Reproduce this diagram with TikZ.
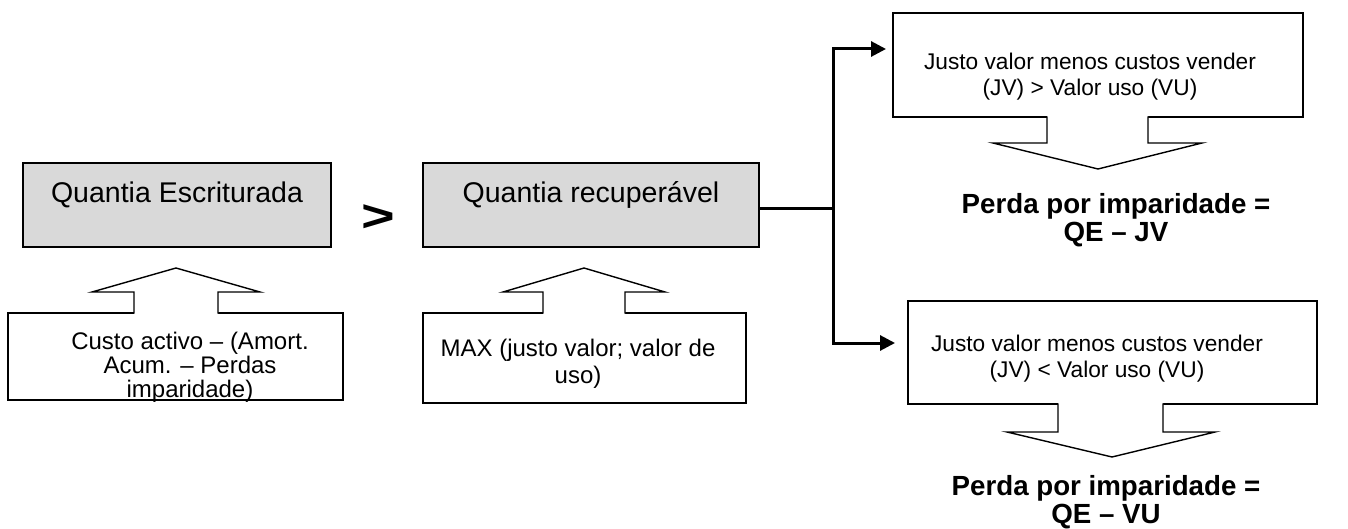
\documentclass[tikz,border=0pt]{standalone}
\usepackage{fontspec}
\setmainfont{Liberation Sans}
\usetikzlibrary{arrows.meta}
\definecolor{boxgray}{HTML}{D9D9D9}

\begin{document}
\begin{tikzpicture}[x=1pt,y=-1pt,
  frame/.style={draw=black, line width=1.4pt, rectangle, inner sep=0pt},
  greybox/.style={frame, fill=boxgray},
  title/.style={font=\fontsize{28.5}{34}\selectfont, inner sep=0pt, anchor=base},
  note/.style={font=\fontsize{24}{24}\selectfont, align=center, inner sep=0pt},
  notewide/.style={note, font=\fontsize{22.7}{26}\selectfont},
  result/.style={font=\fontsize{27.7}{28.5}\selectfont\bfseries, align=center, inner sep=0pt},
  link/.style={line width=3pt, line join=miter},
  tip/.style={-{Triangle[length=15pt,width=15pt]}},
  shaftline/.style={draw=black, line width=1.4pt, line join=miter}]

\useasboundingbox (0,0) rectangle (1348,529);

% --- carrying amount and recoverable amount ---
\node[greybox, minimum width=308pt, minimum height=84pt] (qe) at (177,205) {};
\node[title] (qetxt) at (177,203) {Quantia Escriturada};

\node[greybox, minimum width=336pt, minimum height=84pt] (qr) at (591,205) {};
\node[title] (qrtxt) at (591,203) {Quantia recuperável};

\node[font=\fontsize{44.7}{50}\selectfont\bfseries, inner sep=0pt, anchor=base] (gt) at (378,232) {\scalebox{1.29}[1]{>}};

% --- callout under the carrying amount ---
\node[frame, minimum width=335pt, minimum height=87pt] (cbox) at (175.5,356.5) {};
\fill[white] (134,314) -- (134,292) -- (92,292) -- (176,268) -- (260,292) -- (218,292) -- (218,314) -- cycle;
\draw[shaftline] (134,313.7) -- (134,292) -- (92,292) -- (176,268) -- (260,292) -- (218,292) -- (218,313.7);
\node[note] (ctxt) at (190,367) {Custo activo – (Amort.\\Acum. – Perdas\\imparidade)};

% --- callout under the recoverable amount ---
\node[frame, minimum width=323pt, minimum height=90pt] (mbox) at (584.5,358) {};
\fill[white] (543,314) -- (543,292) -- (503,292) -- (584,268) -- (665,292) -- (625,292) -- (625,314) -- cycle;
\draw[shaftline] (543,313.7) -- (543,292) -- (503,292) -- (584,268) -- (665,292) -- (625,292) -- (625,313.7);
\node[note, font=\fontsize{24}{27}\selectfont] (mtxt) at (578,364) {MAX (justo valor; valor de\\uso)};

% --- case JV > VU ---
\node[frame, minimum width=410pt, minimum height=104pt] (jv) at (1098,65) {};
\fill[white] (1047,116) -- (1047,143) -- (993,143) -- (1098,169) -- (1202,143) -- (1148,143) -- (1148,116) -- cycle;
\draw[shaftline] (1047,116.3) -- (1047,143) -- (993,143) -- (1098,169) -- (1202,143) -- (1148,143) -- (1148,116.3);
\node[notewide] (jvtxt) at (1090,77) {Justo valor menos custos vender\\(JV) > Valor uso (VU)};
\node[result] (rjv) at (1116,220) {Perda por imparidade =\\QE – JV};

% --- case JV < VU ---
\node[frame, minimum width=409pt, minimum height=103pt] (vu) at (1112.5,352.5) {};
\fill[white] (1058,403) -- (1058,432) -- (1007,432) -- (1112,457) -- (1215,432) -- (1163,432) -- (1163,403) -- cycle;
\draw[shaftline] (1058,403.3) -- (1058,432) -- (1007,432) -- (1112,457) -- (1215,432) -- (1163,432) -- (1163,403.3);
\node[notewide] (vutxt) at (1097,359) {Justo valor menos custos vender\\(JV) < Valor uso (VU)};
\node[result] (rvu) at (1106,502) {Perda por imparidade =\\QE – VU};

% --- branching connector ---
\coordinate (fork) at (833,209);
\coordinate (toJV) at (886,49);
\coordinate (toVU) at (895,343);
\draw[link] (qr.east |- fork) -- (fork);
\draw[link, tip] (fork) |- (toJV);
\draw[link, tip] (fork) |- (toVU);
\end{tikzpicture}
\end{document}
